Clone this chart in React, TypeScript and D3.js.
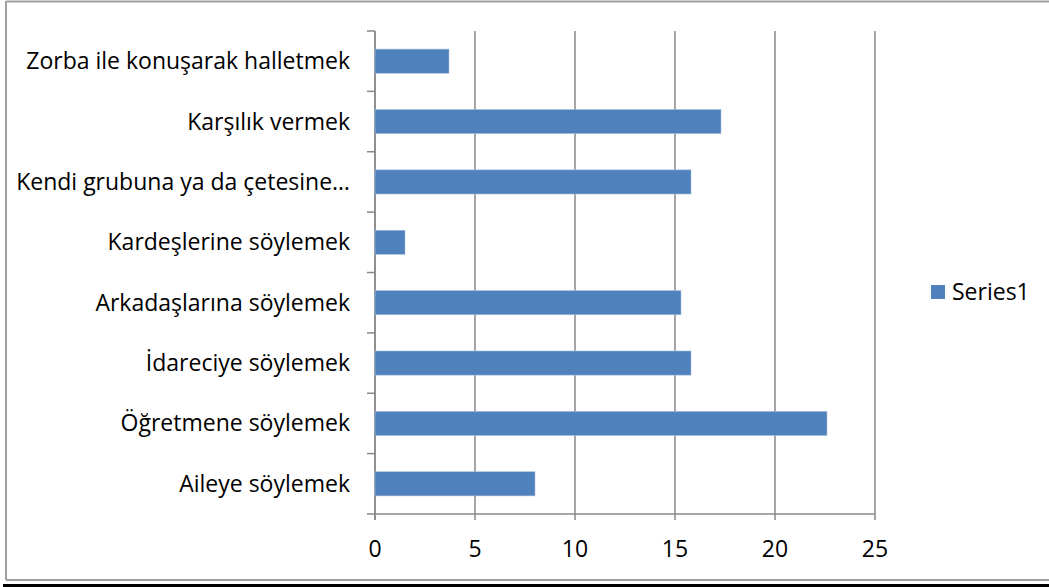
import React from "react";
import * as d3 from "d3";

// categories listed top to bottom as they appear
const categories = [
  "Zorba ile konuşarak halletmek",
  "Karşılık vermek",
  "Kendi grubuna ya da çetesine…",
  "Kardeşlerine söylemek",
  "Arkadaşlarına söylemek",
  "İdareciye söylemek",
  "Öğretmene söylemek",
  "Aileye söylemek",
];
const series1 = [3.7, 17.3, 15.8, 1.5, 15.3, 15.8, 22.6, 8.0];
const xTicks = [0, 5, 10, 15, 20, 25];
const seriesName = "Series1";

const W = 1049,
  H = 587;
const plot = { left: 375, right: 875, top: 31, bottom: 514 };
const font = "'Open Sans', 'Noto Sans', sans-serif";
const fs = 23;
const barColor = "#4F81BD";
const axisColor = "#888888";

export default function App() {
  const x = d3.scaleLinear().domain([0, 25]).range([plot.left, plot.right]);
  const y = d3
    .scaleBand<string>()
    .domain(categories)
    .range([plot.top, plot.bottom])
    .padding(0);
  const bh = y.bandwidth() * 0.4;
  const bounds = d3.range(categories.length + 1).map((i) => plot.top + i * y.step());

  return (
    <svg
      width={W}
      height={H}
      style={{ position: "absolute", left: 0, top: 0, background: "#fff" }}
      fontFamily={font}
    >
      {/* frame */}
      <line x1={6} x2={W} y1={1.5} y2={1.5} stroke="#a0a0a0" strokeWidth={2} />
      <line x1={6} x2={6} y1={1} y2={580} stroke="#a0a0a0" strokeWidth={2} />
      <line x1={6} x2={W} y1={580} y2={580} stroke="#a0a0a0" strokeWidth={2} />
      <line x1={3} x2={W} y1={585.5} y2={585.5} stroke="#000" strokeWidth={3} />

      {/* gridlines */}
      {xTicks.map((t) => (
        <line
          key={"g" + t}
          x1={x(t)}
          x2={x(t)}
          y1={plot.top}
          y2={plot.bottom + 6}
          stroke={axisColor}
          strokeWidth={1.5}
        />
      ))}

      {/* category axis */}
      <line x1={plot.left} x2={plot.left} y1={plot.top} y2={plot.bottom + 6} stroke={axisColor} strokeWidth={1.5} />
      {bounds.map((b, i) => (
        <line key={"t" + i} x1={plot.left - 8} x2={plot.left} y1={b} y2={b} stroke={axisColor} strokeWidth={1.5} />
      ))}
      <line x1={plot.left} x2={plot.right} y1={plot.bottom} y2={plot.bottom} stroke={axisColor} strokeWidth={1.5} />

      {/* bars */}
      {categories.map((c, i) => (
        <rect
          key={c}
          x={x(0)}
          y={(y(c) as number) + (y.bandwidth() - bh) / 2}
          width={x(series1[i]) - x(0)}
          height={bh}
          fill={barColor}
          stroke="#a7c0e0"
          strokeWidth={0.6}
        />
      ))}

      {/* category labels */}
      {categories.map((c) => (
        <text
          key={"l" + c}
          x={plot.left - 25}
          y={(y(c) as number) + y.bandwidth() / 2 + 8}
          textAnchor="end"
          fontSize={fs}
          fill="#000"
        >
          {c}
        </text>
      ))}

      {/* value labels */}
      {xTicks.map((t) => (
        <text key={"v" + t} x={x(t)} y={557} textAnchor="middle" fontSize={fs} fill="#000">
          {t}
        </text>
      ))}

      {/* legend */}
      <rect x={931} y={285} width={14} height={14} fill={barColor} />
      <text x={952} y={300} fontSize={fs} fill="#000">
        {seriesName}
      </text>
    </svg>
  );
}
